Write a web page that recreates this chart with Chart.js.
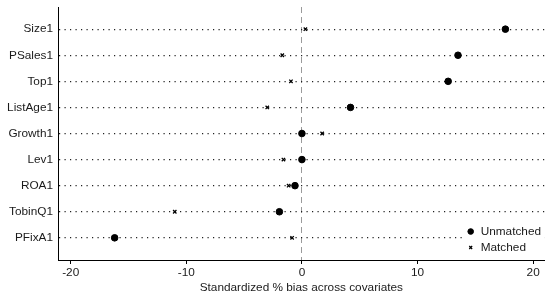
<!DOCTYPE html>
<html>
<head>
<meta charset="utf-8">
<script src="https://cdn.jsdelivr.net/npm/chart.js@4"></script>
<style>
html,body{margin:0;padding:0;background:#fff;}
#wrap{position:relative;width:550px;height:297px;}
</style>
</head>
<body>
<div id="wrap"><canvas id="c" width="550" height="297"></canvas></div>
<script>
const categories = ["Size1","PSales1","Top1","ListAge1","Growth1","Lev1","ROA1","TobinQ1","PFixA1"];
const unmatched = [17.6, 13.5, 12.65, 4.2, 0.0, 0.0, -0.6, -1.95, -16.2];
const matched   = [0.3, -1.7, -0.95, -3.0, 1.75, -1.6, -1.15, -11.0, -0.85];
const xTicks = [-20, -10, 0, 10, 20];
const seriesNames = ["Unmatched", "Matched"];
const xTitle = "Standardized % bias across covariates";

const FONT = "'Liberation Sans', Arial, sans-serif";
const TXT = "#1a1a1a";

const legendPlugin = {
  id: 'boxLegend',
  afterDatasetsDraw(chart) {
    const ctx = chart.ctx;
    const area = chart.chartArea;
    const x0 = area.right - 82, y0 = area.bottom - 36;
    ctx.save();
    ctx.fillStyle = '#fff';
    ctx.fillRect(x0, y0, 82, 32);
    ctx.font = "11.8px " + FONT;
    ctx.textBaseline = 'middle';
    ctx.textAlign = 'left';
    chart.data.datasets.forEach((ds, i) => {
      const cy = y0 + 7.5 + i * 16;
      ctx.fillStyle = '#000';
      ctx.strokeStyle = '#000';
      ctx.lineWidth = ds.borderWidth;
      Chart.helpers.drawPoint(ctx, {
        pointStyle: ds.pointStyle, radius: ds.pointRadius * 0.85,
        borderWidth: ds.borderWidth, rotation: 0
      }, x0 + 8, cy);
      ctx.fillStyle = TXT;
      ctx.fillText(seriesNames[i], x0 + 18, cy + 0.5);
    });
    ctx.restore();
  }
};

const chart = new Chart(document.getElementById('c'), {
  type: 'scatter',
  data: {
    datasets: [
      {
        label: seriesNames[0],
        data: unmatched.map((v, i) => ({x: v, y: i + 1})),
        pointStyle: 'circle', pointRadius: 3.3, backgroundColor: '#000', borderColor: '#000', borderWidth: 1
      },
      {
        label: seriesNames[1],
        data: matched.map((v, i) => ({x: v, y: i + 1})),
        pointStyle: 'crossRot', pointRadius: 2.4, backgroundColor: '#000', borderColor: '#000', borderWidth: 1.3
      }
    ]
  },
  options: {
    responsive: false,
    animation: false,
    events: [],
    layout: { padding: { left: 0, right: 5, top: 7, bottom: 0 } },
    plugins: { legend: { display: false }, tooltip: { enabled: false } },
    scales: {
      x: {
        type: 'linear',
        min: -21.1, max: 21,
        afterBuildTicks: (s) => { s.ticks = xTicks.map(v => ({value: v})); },
        afterFit: (s) => { s.height = 37; s.paddingLeft = 0; s.paddingRight = 0; },
        grid: {
          drawOnChartArea: true,
          color: (c) => (c.tick && c.tick.value === 0) ? '#9a9a9a' : 'rgba(0,0,0,0)',
          lineWidth: 1,
          tickColor: '#000',
          tickLength: 4,
          drawTicks: true
        },
        border: { display: true, color: '#000', width: 1, dash: [6, 4] },
        ticks: { color: TXT, font: { family: FONT, size: 11.8 }, padding: 2, maxRotation: 0 },
        title: { display: true, text: xTitle, color: TXT, font: { family: FONT, size: 11.8 }, padding: { top: 0, bottom: 2 } }
      },
      y: {
        type: 'linear',
        reverse: true,
        min: 0.15, max: 9.85,
        afterBuildTicks: (s) => { s.ticks = categories.map((c, i) => ({value: i + 1})); },
        afterFit: (s) => { s.width = 58; s.paddingTop = 0; s.paddingBottom = 0; },
        grid: { color: '#222', lineWidth: 1.2, drawTicks: false },
        border: { display: true, color: '#000', width: 1, dash: [1.2, 4.3] },
        ticks: {
          color: TXT, font: { family: FONT, size: 11.8 }, padding: 5,
          callback: (v) => categories[v - 1]
        }
      }
    }
  },
  plugins: [legendPlugin]
});
</script>
</body>
</html>
